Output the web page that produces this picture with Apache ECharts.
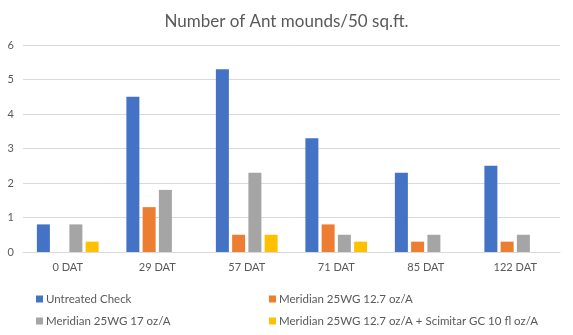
<!DOCTYPE html>
<html><head><meta charset="utf-8">
<script src="https://cdn.jsdelivr.net/npm/echarts@6/dist/echarts.min.js"></script>
<style>html,body{margin:0;padding:0;background:#fff}#c{width:573px;height:335px}</style>
</head><body><div id="c"></div>
<script>
const categories = ['0 DAT','29 DAT','57 DAT','71 DAT','85 DAT','122 DAT'];
const seriesNames = ['Untreated Check','Meridian 25WG 12.7 oz/A','Meridian 25WG 17 oz/A','Meridian 25WG 12.7 oz/A + Scimitar GC 10 fl oz/A'];
const untreated = [0.8, 4.5, 5.3, 3.3, 2.3, 2.5];
const meridian127 = [null, 1.3, 0.5, 0.8, 0.3, 0.3];
const meridian17 = [0.8, 1.8, 2.3, 0.5, 0.5, 0.5];
const meridianScimitar = [0.3, null, 0.5, 0.3, null, null];
const colors = ['#4472C4','#ED7D31','#A5A5A5','#FFC000'];
const yTicks = {min:0, max:6, interval:1};
const font = 'Lato, "Open Sans", sans-serif';
const txt = '#595959';
const allData = [untreated, meridian127, meridian17, meridianScimitar];
const legendPos = [{left:31,top:288},{left:264,top:288},{left:31,top:310},{left:264,top:310}];
const chart = echarts.init(document.getElementById('c'));
chart.setOption({
  animation:false,
  title:{text:'Number of Ant mounds/50 sq.ft.', left:'center', top:8, textStyle:{fontFamily:font, fontSize:17, fontWeight:'normal', color:txt}},
  grid:{left:23, right:13, top:45, bottom:83},
  legend: seriesNames.map((n,i)=>({data:[n], left:legendPos[i].left, top:legendPos[i].top, itemWidth:7, itemHeight:7, itemGap:0, icon:'rect', textStyle:{fontFamily:font, fontSize:11.5, color:txt, padding:[0,0,0,-2]}})),
  xAxis:{type:'category', data:categories, axisTick:{show:false}, axisLine:{lineStyle:{color:'#D9D9D9'}}, axisLabel:{fontFamily:font, fontSize:11, color:txt, margin:10}},
  yAxis:{type:'value', min:yTicks.min, max:yTicks.max, interval:yTicks.interval, axisLabel:{fontFamily:font, fontSize:11, color:txt, margin:9}, splitLine:{lineStyle:{color:'#D9D9D9'}}},
  series: seriesNames.map((n,i)=>({name:n, type:'bar', data:allData[i], itemStyle:{color:colors[i]}, barWidth:13, barGap:'25%'}))
});
</script></body></html>
